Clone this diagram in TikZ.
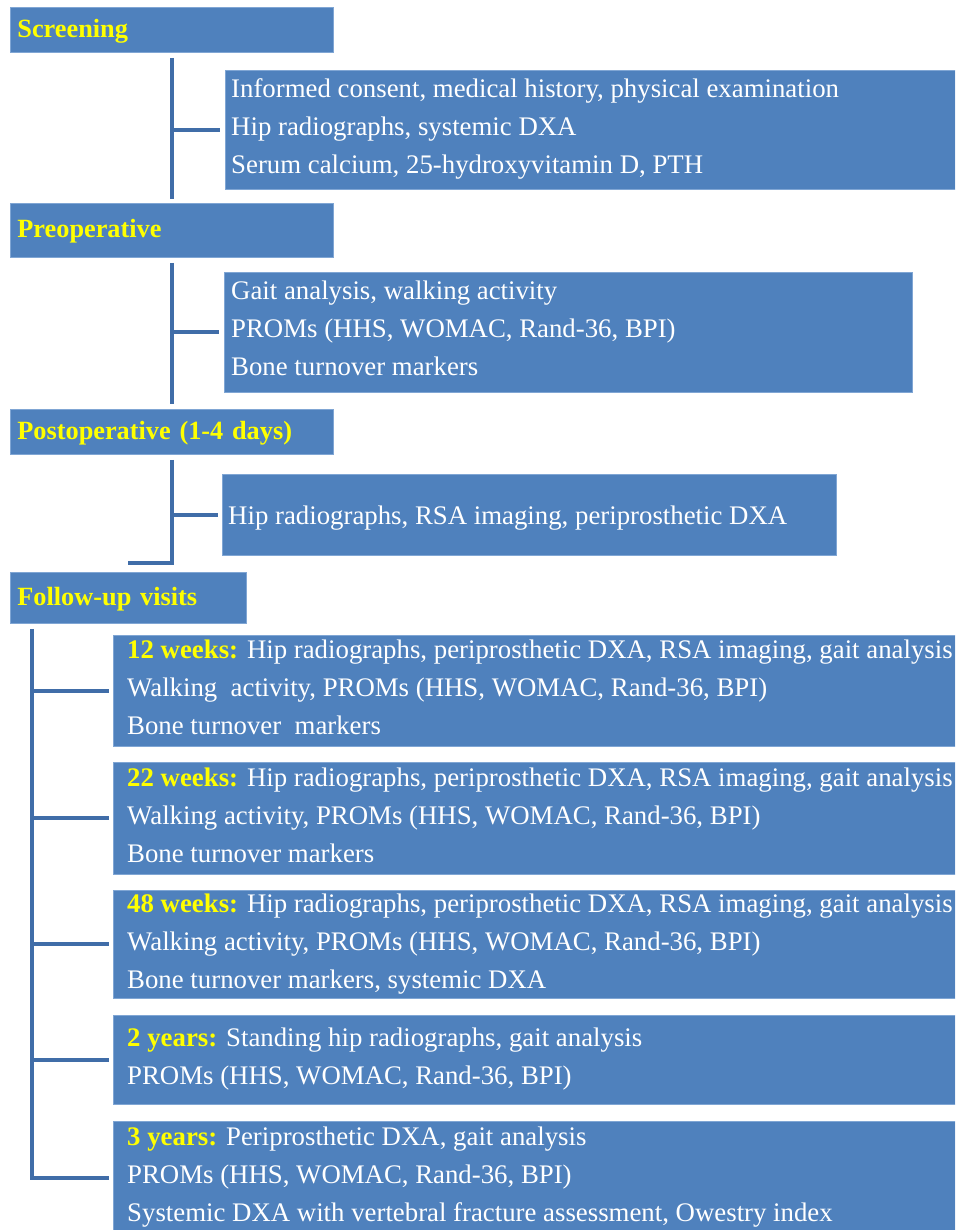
\documentclass[tikz,border=0pt]{standalone}
\usepackage{fontspec}
\setmainfont{Liberation Serif}
\usepackage{xcolor}
\usetikzlibrary{calc}
\definecolor{boxblue}{RGB}{79,129,189}
\definecolor{boxedge}{RGB}{128,166,212}
\definecolor{linkblue}{RGB}{64,109,168}
\definecolor{labelyellow}{RGB}{255,255,0}

\tikzset{
  phase/.style={fill=boxblue, draw=boxedge, line width=0.8pt, anchor=north west,
    text=labelyellow, font=\fontsize{26.3}{38}\selectfont\bfseries,
    align=left, inner xsep=7pt, inner ysep=0pt, execute at begin node=\strut},
  infobox/.style={fill=boxblue, draw=boxedge, line width=0.8pt, anchor=north west,
    inner sep=0pt},
  infotext/.style={anchor=west, yshift=-2pt, text=white, font=\fontsize{26.8}{38}\selectfont,
    align=left, inner sep=0pt, execute at begin node=\strut, execute at end node=\strut},
  trunk/.style={linkblue, line width=4pt},
}
\newcommand{\visitlabel}[1]{\textcolor{labelyellow}{\bfseries #1}}

\begin{document}
\begin{tikzpicture}[x=1pt,y=-1pt]

  % ── CANVAS ────────────────────────────────────────────────────────────────
  \useasboundingbox (0,0) rectangle (955,1230);
  \fill[white] (0,0) rectangle (955,1230);
  \clip (0,0) rectangle (955,1230);

  % ── PHASE HEADERS ─────────────────────────────────────────────────────────
  \node[phase, text width=309pt, minimum height=45pt] (scr)  at (10,7)   {Screening};
  \node[phase, text width=309pt, minimum height=54pt] (pre)  at (10,203) {Preoperative};
  \node[phase, text width=309pt, minimum height=45pt] (post) at (10,409) {Postoperative (1-4 days)};
  \node[phase, text width=222pt, minimum height=51pt] (fol)  at (10,572) {Follow-up visits};

  % ── PHASE CONTENTS ────────────────────────────────────────────────────────
  \node[infobox, minimum width=730pt, minimum height=119pt] (box-scr) at (225,70) {};
  \node[infotext] (text-scr) at ([xshift=6pt]box-scr.west)
    {Informed consent, medical history, physical examination\\
     Hip radiographs, systemic DXA\\
     Serum calcium, 25-hydroxyvitamin D, PTH};

  \node[infobox, minimum width=688pt, minimum height=120pt] (box-pre) at (224,272) {};
  \node[infotext] (text-pre) at ([xshift=7pt]box-pre.west)
    {Gait analysis, walking activity\\
     PROMs (HHS, WOMAC, Rand-36, BPI)\\
     Bone turnover markers};

  \node[infobox, minimum width=614pt, minimum height=81pt] (box-post) at (222,474) {};
  \node[infotext] (text-post) at ([xshift=6pt]box-post.west)
    {Hip radiographs, RSA imaging, periprosthetic DXA};

  % ── FOLLOW-UP VISITS ──────────────────────────────────────────────────────
  % all visit boxes share the same left edge and width
  \node[infobox, minimum width=842pt, minimum height=111pt] (box-w12) at (113,635) {};
  \node[infotext] (text-w12) at ([xshift=14pt]box-w12.west)
    {\visitlabel{12 weeks:} Hip radiographs, periprosthetic DXA, RSA imaging, gait analysis\\
     Walking\ \ activity, PROMs (HHS, WOMAC, Rand-36, BPI)\\
     Bone turnover\ \ markers};

  \node[infobox, minimum width=842pt, minimum height=112pt] (box-w22) at (113,762) {};
  \node[infotext] (text-w22) at ([xshift=14pt]box-w22.west)
    {\visitlabel{22 weeks:} Hip radiographs, periprosthetic DXA, RSA imaging, gait analysis\\
     Walking activity, PROMs (HHS, WOMAC, Rand-36, BPI)\\
     Bone turnover markers};

  \node[infobox, minimum width=842pt, minimum height=108pt] (box-w48) at (113,890) {};
  \node[infotext] (text-w48) at ([xshift=14pt]box-w48.west)
    {\visitlabel{48 weeks:} Hip radiographs, periprosthetic DXA, RSA imaging, gait analysis\\
     Walking activity, PROMs (HHS, WOMAC, Rand-36, BPI)\\
     Bone turnover markers, systemic DXA};

  \node[infobox, minimum width=842pt, minimum height=89pt] (box-y2) at (113,1015) {};
  \node[infotext] (text-y2) at ([xshift=14pt]box-y2.west)
    {\visitlabel{2 years:} Standing hip radiographs, gait analysis\\
     PROMs (HHS, WOMAC, Rand-36, BPI)};

  \node[infobox, minimum width=842pt, minimum height=113pt] (box-y3) at (113,1121) {};
  \node[infotext] (text-y3) at ([xshift=14pt]box-y3.west)
    {\visitlabel{3 years:} Periprosthetic DXA, gait analysis\\
     PROMs (HHS, WOMAC, Rand-36, BPI)\\
     Systemic DXA with vertebral fracture assessment, Owestry index};

  % ── TREE LINES ────────────────────────────────────────────────────────────
  \draw[trunk] ([yshift=-5pt]scr.south) -- ([yshift=4pt]pre.north);
  \draw[trunk] (box-scr.west -| scr.south) -- ([xshift=-5pt]box-scr.west);

  \draw[trunk] ([yshift=-5pt]pre.south) -- ([yshift=5pt]post.north);
  \draw[trunk] (box-pre.west -| pre.south) -- ([xshift=-5pt]box-pre.west);

  \draw[trunk] ([yshift=-5pt]post.south) |- ([yshift=9pt]fol.north);
  \draw[trunk] (box-post.west -| post.south) -- ([xshift=-4pt]box-post.west);

  % follow-up trunk runs down the left side, one branch per visit
  \coordinate (foltrunk) at ([xshift=22pt,yshift=-5pt]fol.south west);
  \draw[trunk] (foltrunk) |- ([xshift=-4pt]box-y3.west);
  \foreach \v in {w12,w22,w48,y2}{
    \draw[trunk] (foltrunk |- box-\v.west) -- ([xshift=-4pt]box-\v.west);
  }

\end{tikzpicture}
\end{document}
